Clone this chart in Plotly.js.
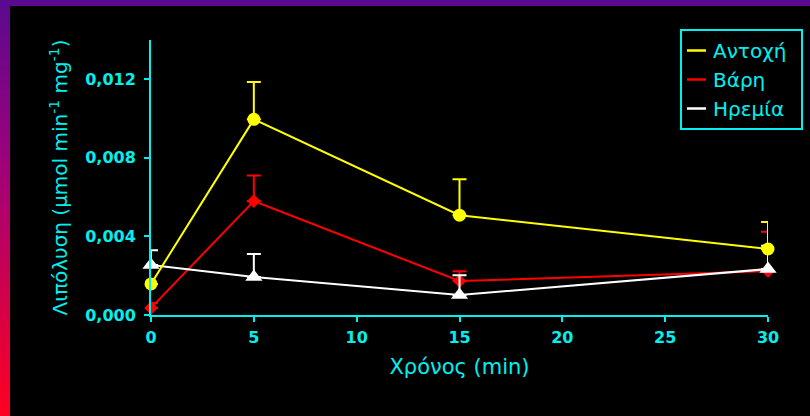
<!DOCTYPE html>
<html>
<head>
<meta charset="utf-8">
<script src="https://cdn.plot.ly/plotly-3.0.1.min.js"></script>
<style>
  html, body { margin: 0; padding: 0; background: #000; }
  #frame { position: relative; width: 810px; height: 416px; background: #000; overflow: hidden; }
  #leftbar { position: absolute; left: 0; top: 0; width: 10px; height: 416px;
             background: linear-gradient(to bottom, #5a0a90 0%, #a0007a 40%, #ff0020 100%); }
  #topbar { position: absolute; left: 0; top: 0; width: 810px; height: 6px; background: #5a0a90; }
  #plot { position: absolute; left: 10px; top: 6px; width: 800px; height: 410px; }
</style>
</head>
<body>
<div id="frame">
  <div id="leftbar"></div>
  <div id="topbar"></div>
  <div id="plot"></div>
</div>
<script>
// Data
const timeMin = [0, 5, 15, 30];
const xTicks = [0, 5, 10, 15, 20, 25, 30];
const yTicks = [0, 0.004, 0.008, 0.012];

const seriesNames = ["Αντοχή", "Βάρη", "Ηρεμία"];

const antoxi = [0.00158, 0.00996, 0.00508, 0.00336];
const antoxiErr = [0.0, 0.0019, 0.00183, 0.00137];

const vari = [0.00036, 0.0058, 0.00173, 0.00224];
const variErr = [0.00025, 0.0013, 0.0005, 0.002];

const iremia = [0.00254, 0.00193, 0.00102, 0.00234];
const iremiaErr = [0.00076, 0.00117, 0.00101, 0.00118];

const CYAN = "#00F0F0";
const FONT = "DejaVu Sans, Verdana, sans-serif";

function dataTrace(name, y, err, color, symbol, size) {
  return {
    x: timeMin, y: y, name: name, type: "scatter", mode: "lines+markers",
    line: { color: color, width: 2 },
    marker: { color: color, symbol: symbol, size: size },
    error_y: { type: "data", symmetric: false, array: err, arrayminus: err.map(() => 0),
               color: color, thickness: 2, width: 7 },
    showlegend: false, cliponaxis: false, hoverinfo: "skip"
  };
}
function legendTrace(name, color) {
  return { x: [null], y: [null], name: name, type: "scatter", mode: "lines",
           line: { color: color, width: 2.5 }, showlegend: true };
}

const traces = [
  dataTrace(seriesNames[1], vari, variErr, "#FF0000", "diamond", 10.5),
  dataTrace(seriesNames[2], iremia, iremiaErr, "#FFFFFF", "triangle-up", 15),
  dataTrace(seriesNames[0], antoxi, antoxiErr, "#FFFF00", "circle", 13),
  legendTrace(seriesNames[0], "#FFFF00"),
  legendTrace(seriesNames[1], "#FF0000"),
  legendTrace(seriesNames[2], "#FFFFFF")
];

const layout = {
  width: 800, height: 410,
  paper_bgcolor: "#000", plot_bgcolor: "#000",
  margin: { l: 141, r: 42, t: 34, b: 101, autoexpand: false },
  separators: ",.",
  font: { family: FONT, color: CYAN },
  xaxis: {
    range: [0, 30], tickmode: "array", tickvals: xTicks,
    showgrid: false, zeroline: false, showline: true, linecolor: CYAN, linewidth: 2,
    ticks: "outside", ticklen: 5, tickwidth: 2, tickcolor: CYAN, ticklabelstandoff: 2,
    tickfont: { family: FONT, size: 16, color: CYAN, weight: "bold" },
    title: { text: "Χρόνος (min)", font: { family: FONT, size: 21, color: CYAN }, standoff: 13 }
  },
  yaxis: {
    range: [0, 0.014], tickmode: "array", tickvals: yTicks,
    tickformat: ".3f",
    showgrid: false, zeroline: false, showline: true, linecolor: CYAN, linewidth: 2,
    ticks: "outside", ticklen: 5, tickwidth: 2, tickcolor: CYAN, ticklabelstandoff: 5,
    tickfont: { family: FONT, size: 16, color: CYAN, weight: "bold" },
    title: { text: "Λιπόλυση (μmol min<sup>-1</sup> mg<sup>-1</sup>)", font: { family: FONT, size: 20, color: CYAN }, standoff: 12 }
  },
  legend: {
    xref: "container", yref: "container",
    x: 793 / 800, xanchor: "right", y: 1 - 23 / 410, yanchor: "top",
    bgcolor: "#000", bordercolor: CYAN, borderwidth: 2,
    font: { family: FONT, size: 20, color: CYAN },
    itemwidth: 30, tracegroupgap: 0
  },
  showlegend: true
};

Plotly.newPlot("plot", traces, layout, { displayModeBar: false, staticPlot: true }).then(() => {
  // shorter legend line samples, as in the reference
  document.querySelectorAll("#plot .legend .traces").forEach(g => {
    const p = g.querySelector(".legendlines path");
    if (p) p.setAttribute("d", "M5,0h19");
    const t = g.querySelector(".legendtext");
    if (t) t.setAttribute("x", (+t.getAttribute("x")) - 9);
  });
});
</script>
</body>
</html>
